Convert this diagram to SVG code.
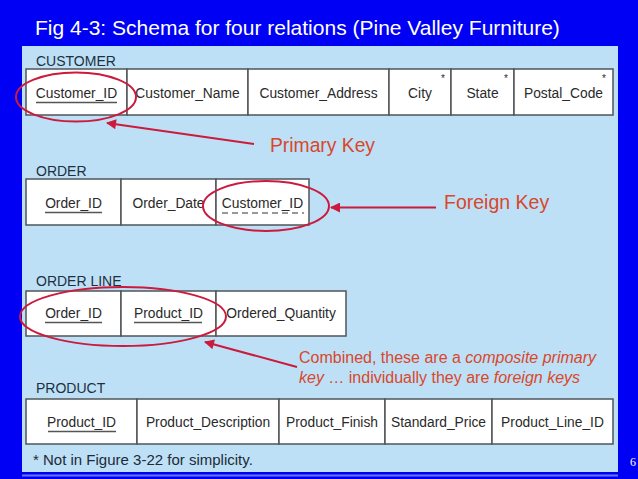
<svg xmlns="http://www.w3.org/2000/svg" width="638" height="479" viewBox="0 0 638 479">
<style>
.title{font-family:"Liberation Sans",Arial,sans-serif;font-size:21px;fill:#ffffff}
.lbl{font-family:"Liberation Sans",Arial,sans-serif;font-size:14px;fill:#1e3040}
.cell{fill:#ffffff;stroke:#505558;stroke-width:1.5}
.ct{font-family:"Liberation Sans",Arial,sans-serif;font-size:13.8px;fill:#2a2a2a;text-anchor:middle}
.ast{font-family:"Liberation Sans",Arial,sans-serif;font-size:10px;fill:#2a2a2a;text-anchor:middle}
.ul{stroke:#555555;stroke-width:1.6;fill:none}
.dul{stroke:#777777;stroke-width:1.6;fill:none;stroke-dasharray:6 4}
.red{font-family:"Liberation Sans",Arial,sans-serif;fill:#d9472b}
.ell{fill:none;stroke:#cc1a3c;stroke-width:2}
.arr{stroke:#cc1a3c;stroke-width:2;fill:none;marker-end:url(#ah)}
.foot{font-family:"Liberation Sans",Arial,sans-serif;font-size:15px;fill:#1e2a36}
</style>
<defs>
<marker id="ah" viewBox="0 0 10 10" refX="9" refY="5" markerWidth="12" markerHeight="10" markerUnits="userSpaceOnUse" orient="auto">
<path d="M0,0 L10,5 L0,10 z" fill="#cc1a3c"/>
</marker>
</defs>
<rect x="0" y="0" width="638" height="479" fill="#0000f4"/>
<rect x="22" y="46" width="596" height="426" fill="#bde0f6"/>
<line x1="22" y1="475.5" x2="618" y2="475.5" stroke="#6a76ff" stroke-width="2"/>
<text class="title" x="35" y="35">Fig 4-3: Schema for four relations (Pine Valley Furniture)</text>

<g id="customer">
<text class="lbl" x="36" y="66">CUSTOMER</text>
<rect class="cell" x="26" y="69" width="101" height="46"/>
<rect class="cell" x="127" y="69" width="121" height="46"/>
<rect class="cell" x="248" y="69" width="141" height="46"/>
<rect class="cell" x="389" y="69" width="62" height="46"/>
<rect class="cell" x="451" y="69" width="63" height="46"/>
<rect class="cell" x="514" y="69" width="99" height="46"/>
<text class="ct" x="76.5" y="98">Customer_ID</text>
<line class="ul" x1="36" y1="102.5" x2="117" y2="102.5"/>
<text class="ct" x="187.5" y="98">Customer_Name</text>
<text class="ct" x="318.5" y="98">Customer_Address</text>
<text class="ct" x="420" y="98">City</text>
<text class="ct" x="482.5" y="98">State</text>
<text class="ct" x="563.5" y="98">Postal_Code</text>
<text class="ast" x="443" y="82">*</text>
<text class="ast" x="506" y="82">*</text>
<text class="ast" x="604" y="82">*</text>
</g>

<g id="order">
<text class="lbl" x="36" y="176">ORDER</text>
<rect class="cell" x="26" y="179" width="95" height="46"/>
<rect class="cell" x="121" y="179" width="95" height="46"/>
<rect class="cell" x="216" y="179" width="93" height="46"/>
<text class="ct" x="73.5" y="208">Order_ID</text>
<line class="ul" x1="45" y1="212.5" x2="102" y2="212.5"/>
<text class="ct" x="168.5" y="208">Order_Date</text>
<text class="ct" x="262.5" y="208">Customer_ID</text>
<line class="dul" x1="222" y1="213" x2="304" y2="213"/>
</g>

<g id="orderline">
<text class="lbl" x="36" y="286">ORDER LINE</text>
<rect class="cell" x="26" y="291" width="95" height="45"/>
<rect class="cell" x="121" y="291" width="95" height="45"/>
<rect class="cell" x="216" y="291" width="130" height="45"/>
<text class="ct" x="73.5" y="318">Order_ID</text>
<line class="ul" x1="45" y1="322.5" x2="102" y2="322.5"/>
<text class="ct" x="168.5" y="318">Product_ID</text>
<line class="ul" x1="134" y1="322.5" x2="202" y2="322.5"/>
<text class="ct" x="281" y="318">Ordered_Quantity</text>
</g>

<g id="product">
<text class="lbl" x="36" y="393">PRODUCT</text>
<rect class="cell" x="26" y="399" width="111" height="45"/>
<rect class="cell" x="137" y="399" width="142" height="45"/>
<rect class="cell" x="279" y="399" width="106" height="45"/>
<rect class="cell" x="385" y="399" width="107" height="45"/>
<rect class="cell" x="492" y="399" width="121" height="45"/>
<text class="ct" x="81.5" y="427">Product_ID</text>
<line class="ul" x1="48" y1="431.5" x2="116" y2="431.5"/>
<text class="ct" x="208" y="427">Product_Description</text>
<text class="ct" x="332" y="427">Product_Finish</text>
<text class="ct" x="438.5" y="427">Standard_Price</text>
<text class="ct" x="552.5" y="427">Product_Line_ID</text>
</g>

<g id="annotations">
<ellipse class="ell" cx="76" cy="97" rx="60" ry="24.5"/>
<ellipse class="ell" cx="266" cy="206" rx="63" ry="25"/>
<ellipse class="ell" cx="123" cy="316.5" rx="103" ry="29.5"/>
<text class="red" x="270" y="152" font-size="19.3">Primary Key</text>
<text class="red" x="444" y="209" font-size="19.5">Foreign Key</text>
<text class="red" x="299" y="362.5" font-size="16">Combined, these are a <tspan font-style="italic">composite primary</tspan></text>
<text class="red" x="299" y="382.5" font-size="16"><tspan font-style="italic">key</tspan> … individually they are <tspan font-style="italic">foreign keys</tspan></text>
</g>

<g id="connectors">
<line class="arr" x1="254" y1="144" x2="107" y2="123"/>
<line class="arr" x1="436" y1="207.5" x2="331" y2="207.5"/>
<line class="arr" x1="297" y1="367" x2="205" y2="342"/>
</g>

<text class="foot" x="33" y="465">* Not in Figure 3-22 for simplicity.</text>
<text x="630" y="466" font-family="'Liberation Serif','Times New Roman',serif" font-size="12" fill="#ffffff">6</text>
</svg>
